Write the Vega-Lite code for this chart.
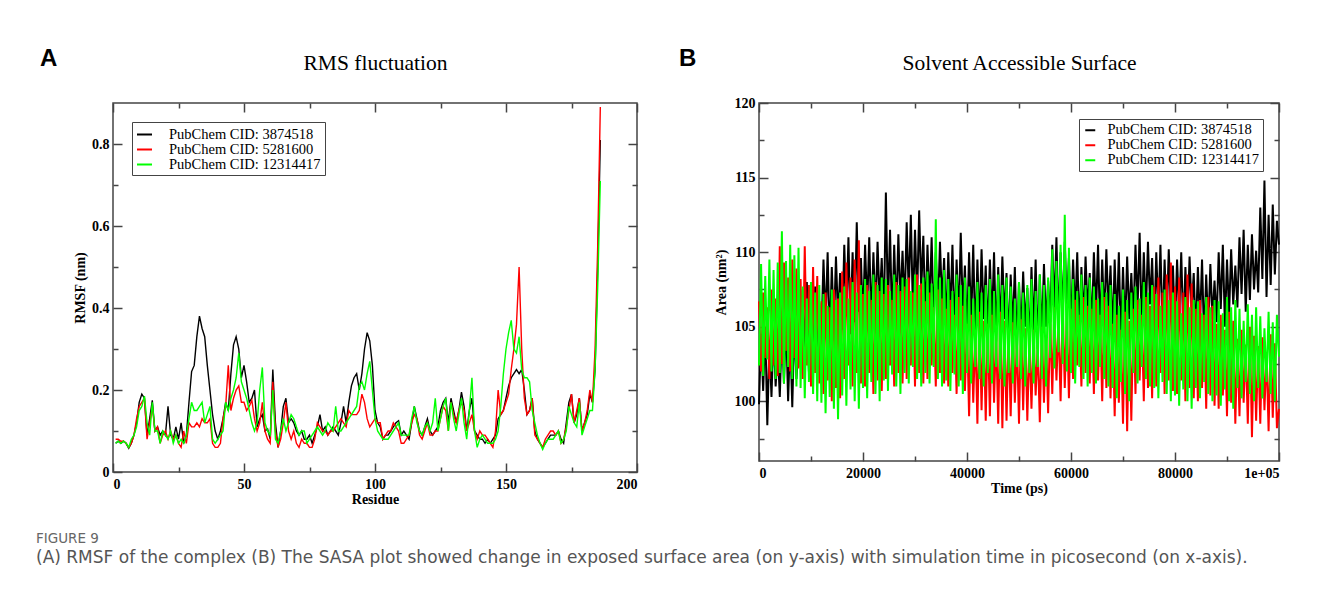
{
  "$schema": "https://vega.github.io/schema/vega-lite/v6.json",
  "background": "white",
  "padding": {"left": 36, "top": 46, "right": 5, "bottom": 5},
  "config": {
    "view": {"stroke": "#444", "strokeWidth": 1.5},
    "axis": {"grid": false, "domain": false, "labelFont": "Liberation Serif", "labelFontWeight": "bold", "labelFontSize": 14, "labelColor": "#000", "titleFont": "Liberation Serif", "titleFontWeight": "bold", "titleFontSize": 14, "titleColor": "#000", "tickColor": "#444", "tickWidth": 1.5}
  },
  "title": {"text": "FIGURE 9", "subtitle": "(A) RMSF of the complex (B) The SASA plot showed change in exposed surface area (on y-axis) with simulation time in picosecond (on x-axis).", "orient": "bottom", "anchor": "start", "frame": "group", "dx": -77, "offset": 25, "font": "DejaVu Sans", "fontSize": 13.5, "fontWeight": "normal", "color": "#666", "subtitleFont": "DejaVu Sans", "subtitleFontSize": 17, "subtitleColor": "#555", "subtitlePadding": 5},
  "spacing": 122,
  "bounds": "flush",
  "resolve": {"scale": {"color": "independent"}, "legend": {"color": "independent"}},
  "hconcat": [
    {
      "width": 524,
      "height": 369,
      "title": {"text": "A", "anchor": "start", "frame": "group", "font": "Liberation Sans", "fontSize": 24, "fontWeight": "bold", "color": "#000", "dx": -73, "offset": 0, "dy": 19},
      "data": {"values": [
        {"residue":1,"k":0.07,"r":0.08,"g":0.07},{"residue":2,"k":0.075,"r":0.08,"g":0.075},{"residue":3,"k":0.07,"r":0.075,"g":0.07},{"residue":4,"k":0.075,"r":0.075,"g":0.075},{"residue":5,"k":0.07,"r":0.07,"g":0.07},
        {"residue":6,"k":0.058,"r":0.06,"g":0.06},{"residue":7,"k":0.07,"r":0.07,"g":0.08},{"residue":8,"k":0.09,"r":0.09,"g":0.09},{"residue":9,"k":0.12,"r":0.13,"g":0.11},{"residue":10,"k":0.17,"r":0.16,"g":0.15},
        {"residue":11,"k":0.19,"r":0.17,"g":0.16},{"residue":12,"k":0.18,"r":0.18,"g":0.185},{"residue":13,"k":0.09,"r":0.08,"g":0.12},{"residue":14,"k":0.13,"r":0.12,"g":0.09},{"residue":15,"k":0.175,"r":0.16,"g":0.17},
        {"residue":16,"k":0.10,"r":0.10,"g":0.10},{"residue":17,"k":0.11,"r":0.11,"g":0.10},{"residue":18,"k":0.09,"r":0.07,"g":0.07},{"residue":19,"k":0.10,"r":0.09,"g":0.10},{"residue":20,"k":0.09,"r":0.10,"g":0.09},
        {"residue":21,"k":0.16,"r":0.08,"g":0.08},{"residue":22,"k":0.09,"r":0.10,"g":0.10},{"residue":23,"k":0.08,"r":0.08,"g":0.07},{"residue":24,"k":0.11,"r":0.09,"g":0.09},{"residue":25,"k":0.08,"r":0.07,"g":0.07},
        {"residue":26,"k":0.12,"r":0.06,"g":0.08},{"residue":27,"k":0.07,"r":0.10,"g":0.07},{"residue":28,"k":0.09,"r":0.07,"g":0.09},{"residue":29,"k":0.17,"r":0.12,"g":0.13},{"residue":30,"k":0.245,"r":0.11,"g":0.17},
        {"residue":31,"k":0.26,"r":0.11,"g":0.15},{"residue":32,"k":0.33,"r":0.12,"g":0.15},{"residue":33,"k":0.38,"r":0.11,"g":0.16},{"residue":34,"k":0.35,"r":0.13,"g":0.17},{"residue":35,"k":0.33,"r":0.12,"g":0.12},
        {"residue":36,"k":0.26,"r":0.12,"g":0.14},{"residue":37,"k":0.20,"r":0.13,"g":0.16},{"residue":38,"k":0.14,"r":0.07,"g":0.08},{"residue":39,"k":0.10,"r":0.06,"g":0.07},{"residue":40,"k":0.08,"r":0.06,"g":0.08},
        {"residue":41,"k":0.10,"r":0.07,"g":0.09},{"residue":42,"k":0.13,"r":0.13,"g":0.10},{"residue":43,"k":0.17,"r":0.16,"g":0.17},{"residue":44,"k":0.15,"r":0.26,"g":0.15},{"residue":45,"k":0.24,"r":0.15,"g":0.18},
        {"residue":46,"k":0.31,"r":0.18,"g":0.20},{"residue":47,"k":0.33,"r":0.20,"g":0.23},{"residue":48,"k":0.30,"r":0.21,"g":0.29},{"residue":49,"k":0.23,"r":0.17,"g":0.22},{"residue":50,"k":0.26,"r":0.17,"g":0.20},
        {"residue":51,"k":0.22,"r":0.15,"g":0.18},{"residue":52,"k":0.17,"r":0.16,"g":0.15},{"residue":53,"k":0.18,"r":0.175,"g":0.12},{"residue":54,"k":0.20,"r":0.13,"g":0.10},{"residue":55,"k":0.11,"r":0.10,"g":0.12},
        {"residue":56,"k":0.13,"r":0.12,"g":0.20},{"residue":57,"k":0.14,"r":0.17,"g":0.255},{"residue":58,"k":0.10,"r":0.10,"g":0.12},{"residue":59,"k":0.105,"r":0.08,"g":0.10},{"residue":60,"k":0.08,"r":0.07,"g":0.09},
        {"residue":61,"k":0.25,"r":0.22,"g":0.20},{"residue":62,"k":0.12,"r":0.10,"g":0.08},{"residue":63,"k":0.06,"r":0.06,"g":0.07},{"residue":64,"k":0.10,"r":0.08,"g":0.10},{"residue":65,"k":0.16,"r":0.12,"g":0.13},
        {"residue":66,"k":0.18,"r":0.17,"g":0.10},{"residue":67,"k":0.12,"r":0.10,"g":0.12},{"residue":68,"k":0.13,"r":0.08,"g":0.14},{"residue":69,"k":0.12,"r":0.10,"g":0.13},{"residue":70,"k":0.10,"r":0.07,"g":0.11},
        {"residue":71,"k":0.09,"r":0.06,"g":0.09},{"residue":72,"k":0.10,"r":0.08,"g":0.10},{"residue":73,"k":0.08,"r":0.07,"g":0.10},{"residue":74,"k":0.08,"r":0.07,"g":0.07},{"residue":75,"k":0.09,"r":0.06,"g":0.08},
        {"residue":76,"k":0.07,"r":0.06,"g":0.09},{"residue":77,"k":0.09,"r":0.08,"g":0.10},{"residue":78,"k":0.11,"r":0.12,"g":0.11},{"residue":79,"k":0.14,"r":0.11,"g":0.10},{"residue":80,"k":0.10,"r":0.10,"g":0.09},
        {"residue":81,"k":0.11,"r":0.10,"g":0.10},{"residue":82,"k":0.09,"r":0.09,"g":0.12},{"residue":83,"k":0.10,"r":0.10,"g":0.11},{"residue":84,"k":0.11,"r":0.10,"g":0.10},{"residue":85,"k":0.10,"r":0.11,"g":0.16},
        {"residue":86,"k":0.09,"r":0.12,"g":0.10},{"residue":87,"k":0.12,"r":0.13,"g":0.10},{"residue":88,"k":0.16,"r":0.12,"g":0.11},{"residue":89,"k":0.12,"r":0.11,"g":0.12},{"residue":90,"k":0.17,"r":0.15,"g":0.13},
        {"residue":91,"k":0.21,"r":0.14,"g":0.14},{"residue":92,"k":0.23,"r":0.14,"g":0.15},{"residue":93,"k":0.24,"r":0.14,"g":0.16},{"residue":94,"k":0.20,"r":0.15,"g":0.21},{"residue":95,"k":0.24,"r":0.19,"g":0.22},
        {"residue":96,"k":0.30,"r":0.17,"g":0.20},{"residue":97,"k":0.34,"r":0.13,"g":0.24},{"residue":98,"k":0.32,"r":0.11,"g":0.27},{"residue":99,"k":0.26,"r":0.12,"g":0.20},{"residue":100,"k":0.15,"r":0.13,"g":0.13},
        {"residue":101,"k":0.12,"r":0.12,"g":0.10},{"residue":102,"k":0.11,"r":0.12,"g":0.09},{"residue":103,"k":0.08,"r":0.08,"g":0.08},{"residue":104,"k":0.09,"r":0.09,"g":0.08},{"residue":105,"k":0.09,"r":0.10,"g":0.08},
        {"residue":106,"k":0.10,"r":0.10,"g":0.09},{"residue":107,"k":0.11,"r":0.12,"g":0.10},{"residue":108,"k":0.12,"r":0.11,"g":0.11},{"residue":109,"k":0.125,"r":0.10,"g":0.12},{"residue":110,"k":0.09,"r":0.07,"g":0.09},
        {"residue":111,"k":0.10,"r":0.07,"g":0.09},{"residue":112,"k":0.09,"r":0.08,"g":0.09},{"residue":113,"k":0.08,"r":0.09,"g":0.09},{"residue":114,"k":0.12,"r":0.12,"g":0.13},{"residue":115,"k":0.16,"r":0.14,"g":0.16},
        {"residue":116,"k":0.13,"r":0.13,"g":0.12},{"residue":117,"k":0.10,"r":0.09,"g":0.10},{"residue":118,"k":0.09,"r":0.08,"g":0.09},{"residue":119,"k":0.11,"r":0.10,"g":0.11},{"residue":120,"k":0.13,"r":0.12,"g":0.12},
        {"residue":121,"k":0.10,"r":0.09,"g":0.10},{"residue":122,"k":0.09,"r":0.09,"g":0.12},{"residue":123,"k":0.10,"r":0.10,"g":0.18},{"residue":124,"k":0.11,"r":0.10,"g":0.10},{"residue":125,"k":0.15,"r":0.13,"g":0.13},
        {"residue":126,"k":0.17,"r":0.16,"g":0.16},{"residue":127,"k":0.18,"r":0.15,"g":0.18},{"residue":128,"k":0.12,"r":0.10,"g":0.10},{"residue":129,"k":0.18,"r":0.17,"g":0.17},{"residue":130,"k":0.15,"r":0.14,"g":0.13},
        {"residue":131,"k":0.12,"r":0.12,"g":0.10},{"residue":132,"k":0.15,"r":0.15,"g":0.14},{"residue":133,"k":0.195,"r":0.17,"g":0.18},{"residue":134,"k":0.16,"r":0.15,"g":0.12},{"residue":135,"k":0.10,"r":0.10,"g":0.08},
        {"residue":136,"k":0.15,"r":0.12,"g":0.15},{"residue":137,"k":0.18,"r":0.14,"g":0.23},{"residue":138,"k":0.10,"r":0.10,"g":0.10},{"residue":139,"k":0.09,"r":0.08,"g":0.06},{"residue":140,"k":0.08,"r":0.10,"g":0.08},
        {"residue":141,"k":0.08,"r":0.09,"g":0.09},{"residue":142,"k":0.07,"r":0.09,"g":0.08},{"residue":143,"k":0.08,"r":0.08,"g":0.07},{"residue":144,"k":0.07,"r":0.07,"g":0.07},{"residue":145,"k":0.08,"r":0.06,"g":0.07},
        {"residue":146,"k":0.09,"r":0.10,"g":0.08},{"residue":147,"k":0.13,"r":0.20,"g":0.10},{"residue":148,"k":0.14,"r":0.14,"g":0.16},{"residue":149,"k":0.15,"r":0.15,"g":0.24},{"residue":150,"k":0.18,"r":0.17,"g":0.30},
        {"residue":151,"k":0.21,"r":0.19,"g":0.34},{"residue":152,"k":0.23,"r":0.25,"g":0.37},{"residue":153,"k":0.24,"r":0.30,"g":0.30},{"residue":154,"k":0.25,"r":0.36,"g":0.29},{"residue":155,"k":0.24,"r":0.50,"g":0.33},
        {"residue":156,"k":0.25,"r":0.30,"g":0.25},{"residue":157,"k":0.20,"r":0.18,"g":0.23},{"residue":158,"k":0.14,"r":0.14,"g":0.23},{"residue":159,"k":0.15,"r":0.15,"g":0.22},{"residue":160,"k":0.18,"r":0.18,"g":0.15},
        {"residue":161,"k":0.10,"r":0.09,"g":0.12},{"residue":162,"k":0.08,"r":0.08,"g":0.09},{"residue":163,"k":0.07,"r":0.07,"g":0.07},{"residue":164,"k":0.06,"r":0.06,"g":0.055},{"residue":165,"k":0.07,"r":0.08,"g":0.07},
        {"residue":166,"k":0.08,"r":0.09,"g":0.08},{"residue":167,"k":0.09,"r":0.10,"g":0.08},{"residue":168,"k":0.09,"r":0.10,"g":0.08},{"residue":169,"k":0.09,"r":0.09,"g":0.09},{"residue":170,"k":0.10,"r":0.10,"g":0.10},
        {"residue":171,"k":0.08,"r":0.07,"g":0.07},{"residue":172,"k":0.07,"r":0.08,"g":0.08},{"residue":173,"k":0.12,"r":0.11,"g":0.10},{"residue":174,"k":0.17,"r":0.15,"g":0.16},{"residue":175,"k":0.19,"r":0.19,"g":0.14},
        {"residue":176,"k":0.12,"r":0.12,"g":0.12},{"residue":177,"k":0.14,"r":0.15,"g":0.11},{"residue":178,"k":0.18,"r":0.18,"g":0.17},{"residue":179,"k":0.10,"r":0.10,"g":0.09},{"residue":180,"k":0.12,"r":0.12,"g":0.11},
        {"residue":181,"k":0.14,"r":0.15,"g":0.13},{"residue":182,"k":0.19,"r":0.20,"g":0.15},{"residue":183,"k":0.17,"r":0.17,"g":0.15},{"residue":184,"k":0.25,"r":0.30,"g":0.25},{"residue":185,"k":0.50,"r":0.55,"g":0.45},
        {"residue":186,"k":0.81,"r":0.89,"g":0.71}
      ]},
      "transform": [{"fold": ["k", "r", "g"], "as": ["cid", "rmsf"]}],
      "encoding": {
        "color": {"field": "cid", "type": "nominal", "scale": {"domain": ["k", "r", "g"], "range": ["#000000", "#ff0000", "#00ff00"]},
          "legend": {"orient": "top-left", "offset": 19, "title": null, "labelExpr": "datum.label == 'k' ? 'PubChem CID: 3874518' : datum.label == 'r' ? 'PubChem CID: 5281600' : 'PubChem CID: 12314417'", "labelFont": "Liberation Serif", "labelFontSize": 14.5, "labelColor": "#000", "symbolType": "stroke", "symbolSize": 225, "symbolStrokeWidth": 2, "labelOffset": 16, "strokeColor": "#444", "fillColor": "#fff", "padding": 4, "rowPadding": 0, "labelLimit": 300}}
      },
      "layer": [
        {"transform": [{"filter": "datum.cid == 'k'"}], "mark": {"type": "line", "strokeWidth": 1.4},
          "encoding": {
            "x": {"field": "residue", "type": "quantitative", "scale": {"domain": [0, 200], "nice": false}, "axis": {"orient": "bottom", "values": [0, 50, 100, 150, 200], "tickSize": -9, "labelPadding": 14, "title": "Residue", "titlePadding": 1}},
            "y": {"field": "rmsf", "type": "quantitative", "scale": {"domain": [0, 0.9], "nice": false}, "axis": {"orient": "left", "values": [0, 0.2, 0.4, 0.6, 0.8], "format": "~g", "tickSize": -9, "labelPadding": 13, "title": "RMSF (nm)", "titlePadding": 4}}
          }},
        {"transform": [{"filter": "datum.cid == 'r'"}], "mark": {"type": "line", "strokeWidth": 1.4},
          "encoding": {
            "x": {"field": "residue", "type": "quantitative", "scale": {"domain": [0, 200], "nice": false}, "axis": {"orient": "top", "values": [0, 50, 100, 150, 200], "tickSize": -9, "labels": false, "title": "RMS fluctuation", "titleFontWeight": "normal", "titleFontSize": 21.5, "titlePadding": 28}},
            "y": {"field": "rmsf", "type": "quantitative", "scale": {"domain": [0, 0.9], "nice": false}, "axis": {"orient": "right", "values": [0, 0.2, 0.4, 0.6, 0.8], "tickSize": -9, "labels": false, "title": null}}
          }},
        {"transform": [{"filter": "datum.cid == 'g'"}], "mark": {"type": "line", "strokeWidth": 1.4},
          "encoding": {
            "x": {"field": "residue", "type": "quantitative", "scale": {"domain": [0, 200], "nice": false}, "axis": {"orient": "bottom", "values": [25, 75, 125, 175], "tickSize": -5, "labels": false, "title": null}},
            "y": {"field": "rmsf", "type": "quantitative", "scale": {"domain": [0, 0.9], "nice": false}, "axis": {"orient": "left", "values": [0.1, 0.3, 0.5, 0.7], "tickSize": -5, "labels": false, "title": null}}
          }},
        {"mark": {"type": "line", "opacity": 0},
          "encoding": {
            "x": {"field": "residue", "type": "quantitative", "scale": {"domain": [0, 200], "nice": false}, "axis": {"orient": "top", "values": [25, 75, 125, 175], "tickSize": -5, "labels": false, "title": null}},
            "y": {"field": "rmsf", "type": "quantitative", "scale": {"domain": [0, 0.9], "nice": false}, "axis": {"orient": "right", "values": [0.1, 0.3, 0.5, 0.7], "tickSize": -5, "labels": false, "title": null}}
          }}
      ],
      "resolve": {"axis": {"x": "independent", "y": "independent"}}
    },
    {
      "width": 520,
      "height": 358,
      "title": {"text": "B", "anchor": "start", "frame": "group", "font": "Liberation Sans", "fontSize": 24, "fontWeight": "bold", "color": "#000", "dx": -80, "offset": 0, "dy": 19},
      "data": {"values": [
        {"time":0,"k":99.8,"r":106.7,"g":102.4},{"time":400,"k":104.5,"r":102,"g":109.2},{"time":800,"k":100.7,"r":107.3,"g":101.7},{"time":1200,"k":105,"r":102.9,"g":108.4},{"time":1600,"k":98.4,"r":106.3,"g":102.8},
        {"time":2000,"k":104,"r":101.5,"g":109.5},{"time":2400,"k":100.3,"r":107.5,"g":102},{"time":2800,"k":104.7,"r":102.4,"g":108.8},{"time":3200,"k":101,"r":106.9,"g":101.5},{"time":3600,"k":103.6,"r":101.7,"g":109.3},
        {"time":4000,"k":100.3,"r":110.4,"g":101.9},{"time":4400,"k":105,"r":102.5,"g":111.4},{"time":4800,"k":101.2,"r":109.3,"g":101.2},{"time":5200,"k":105.5,"r":103.4,"g":109.4},{"time":5600,"k":100,"r":108.3,"g":102.3},
        {"time":6000,"k":104.5,"r":102,"g":110.5},{"time":6400,"k":99.6,"r":109.5,"g":101.5},{"time":6800,"k":105.2,"r":102.9,"g":109.8},{"time":7200,"k":101.5,"r":108.9,"g":101},{"time":7600,"k":104.1,"r":102.2,"g":110.3},
        {"time":8000,"k":102.3,"r":108.2,"g":100.9},{"time":8400,"k":107.5,"r":101.5,"g":107.7},{"time":8800,"k":103.2,"r":110.4,"g":100.2},{"time":9200,"k":108,"r":102.4,"g":106.9},{"time":9600,"k":102,"r":107.8,"g":101.3},
        {"time":10000,"k":107,"r":101,"g":108},{"time":10400,"k":102.8,"r":109,"g":100.5},{"time":10800,"k":107.7,"r":101.9,"g":107.3},{"time":11200,"k":103.5,"r":108.4,"g":100},{"time":11600,"k":106.6,"r":101.2,"g":107.8},
        {"time":12000,"k":104.3,"r":106.7,"g":99.9},{"time":12400,"k":109.5,"r":100.5,"g":107.2},{"time":12800,"k":105.2,"r":107.3,"g":99.2},{"time":13200,"k":110,"r":101.4,"g":106.4},{"time":13600,"k":104,"r":106.3,"g":100.3},
        {"time":14000,"k":109,"r":100,"g":107.5},{"time":14400,"k":104.8,"r":107.5,"g":99.5},{"time":14800,"k":109.7,"r":100.9,"g":106.8},{"time":15200,"k":105.5,"r":106.9,"g":98.8},{"time":15600,"k":108.6,"r":100.2,"g":107.3},
        {"time":16000,"k":104.8,"r":108.7,"g":100.4},{"time":16400,"k":110.5,"r":101.5,"g":107.7},{"time":16800,"k":105.7,"r":109.3,"g":99.7},{"time":17200,"k":111,"r":102.4,"g":106.9},{"time":17600,"k":104.5,"r":108.3,"g":100.8},
        {"time":18000,"k":110,"r":101,"g":108},{"time":18400,"k":105.3,"r":109.5,"g":100},{"time":18800,"k":112,"r":101.9,"g":107.3},{"time":19200,"k":106,"r":110.8,"g":99.5},{"time":19600,"k":109.6,"r":101.2,"g":107.8},
        {"time":20000,"k":105.3,"r":107.2,"g":100.9},{"time":20400,"k":110.5,"r":101,"g":108.2},{"time":20800,"k":106.2,"r":107.8,"g":100.2},{"time":21200,"k":111,"r":101.9,"g":107.4},{"time":21600,"k":105,"r":106.8,"g":101.3},
        {"time":22000,"k":110,"r":100.5,"g":108.5},{"time":22400,"k":105.8,"r":108,"g":100.5},{"time":22800,"k":110.7,"r":101.4,"g":107.8},{"time":23200,"k":106.5,"r":107.4,"g":100},{"time":23600,"k":109.6,"r":100.7,"g":108.3},
        {"time":24000,"k":105.3,"r":107.2,"g":101.4},{"time":24400,"k":114,"r":101.5,"g":108.2},{"time":24800,"k":106.2,"r":107.8,"g":100.7},{"time":25200,"k":111.5,"r":102.4,"g":107.4},{"time":25600,"k":105,"r":106.8,"g":101.8},
        {"time":26000,"k":110.5,"r":101,"g":108.5},{"time":26400,"k":105.8,"r":108,"g":101},{"time":26800,"k":111.2,"r":101.9,"g":107.8},{"time":27200,"k":106.5,"r":107.4,"g":100.5},{"time":27600,"k":110.1,"r":101.2,"g":108.3},
        {"time":28000,"k":106.3,"r":107.7,"g":101.9},{"time":28400,"k":112,"r":101.5,"g":108.2},{"time":28800,"k":107.2,"r":108.3,"g":101.2},{"time":29200,"k":112.5,"r":102.4,"g":107.4},{"time":29600,"k":106,"r":107.3,"g":102.3},
        {"time":30000,"k":111.5,"r":101,"g":108.5},{"time":30400,"k":106.8,"r":108.5,"g":101.5},{"time":30800,"k":112.8,"r":101.9,"g":107.8},{"time":31200,"k":107.5,"r":107.9,"g":101},{"time":31600,"k":111.1,"r":101.2,"g":108.3},
        {"time":32000,"k":105.3,"r":106.7,"g":101.9},{"time":32400,"k":110.5,"r":101.5,"g":108.7},{"time":32800,"k":106.2,"r":107.3,"g":101.2},{"time":33200,"k":111,"r":102.4,"g":107.9},{"time":33600,"k":105,"r":106.3,"g":102.3},
        {"time":34000,"k":110,"r":101,"g":112.2},{"time":34400,"k":105.8,"r":107.5,"g":101.5},{"time":34800,"k":110.7,"r":101.9,"g":108.3},{"time":35200,"k":106.5,"r":106.9,"g":101},{"time":35600,"k":109.6,"r":101.2,"g":108.8},
        {"time":36000,"k":104.8,"r":106.2,"g":101.4},{"time":36400,"k":110,"r":101,"g":108.2},{"time":36800,"k":105.7,"r":106.8,"g":100.7},{"time":37200,"k":110.5,"r":101.9,"g":107.4},{"time":37600,"k":104.5,"r":105.8,"g":101.8},
        {"time":38000,"k":109.5,"r":100.5,"g":108.5},{"time":38400,"k":105.3,"r":107,"g":101},{"time":38800,"k":111.3,"r":101.4,"g":107.8},{"time":39200,"k":106,"r":106.4,"g":100.5},{"time":39600,"k":109.1,"r":100.7,"g":108.3},
        {"time":40000,"k":104.3,"r":105.2,"g":101.9},{"time":40400,"k":110,"r":99,"g":107.7},{"time":40800,"k":105.2,"r":105.8,"g":101.2},{"time":41200,"k":110.5,"r":99.9,"g":106.9},{"time":41600,"k":104,"r":104.8,"g":102.3},
        {"time":42000,"k":109.5,"r":98.5,"g":108},{"time":42400,"k":104.8,"r":106,"g":101.5},{"time":42800,"k":110.2,"r":99.4,"g":107.3},{"time":43200,"k":105.5,"r":105.4,"g":101},{"time":43600,"k":109.1,"r":98.7,"g":107.8},
        {"time":44000,"k":104.3,"r":105.2,"g":101.9},{"time":44400,"k":109.5,"r":99,"g":108.2},{"time":44800,"k":105.2,"r":105.8,"g":101.2},{"time":45200,"k":110,"r":99.9,"g":107.4},{"time":45600,"k":104,"r":104.8,"g":102.3},
        {"time":46000,"k":109,"r":98.5,"g":108.5},{"time":46400,"k":104.8,"r":106,"g":101.5},{"time":46800,"k":109.7,"r":98.2,"g":107.8},{"time":47200,"k":105.5,"r":105.4,"g":101},{"time":47600,"k":108.6,"r":98.7,"g":108.3},
        {"time":48000,"k":103.8,"r":104.7,"g":101.9},{"time":48400,"k":108.5,"r":99,"g":107.7},{"time":48800,"k":104.7,"r":105.3,"g":101.2},{"time":49200,"k":109,"r":99.9,"g":106.9},{"time":49600,"k":103.5,"r":104.3,"g":102.3},
        {"time":50000,"k":108,"r":98.5,"g":108},{"time":50400,"k":104.3,"r":105.5,"g":101.5},{"time":50800,"k":108.7,"r":99.4,"g":107.3},{"time":51200,"k":105,"r":104.9,"g":101},{"time":51600,"k":107.6,"r":98.7,"g":107.8},
        {"time":52000,"k":103.8,"r":104.2,"g":101.9},{"time":52400,"k":109,"r":99.5,"g":108.2},{"time":52800,"k":104.7,"r":104.8,"g":101.2},{"time":53200,"k":109.5,"r":100.4,"g":107.4},{"time":53600,"k":103.5,"r":103.8,"g":102.3},
        {"time":54000,"k":108.5,"r":98.6,"g":108.5},{"time":54400,"k":104.3,"r":105,"g":101.5},{"time":54800,"k":109.2,"r":99.9,"g":107.8},{"time":55200,"k":105,"r":104.4,"g":101},{"time":55600,"k":108.1,"r":99.2,"g":108.3},
        {"time":56000,"k":105.3,"r":105.7,"g":102.9},{"time":56400,"k":110.5,"r":100.5,"g":110.2},{"time":56800,"k":106.2,"r":106.3,"g":102.2},{"time":57200,"k":111,"r":101.4,"g":109.4},{"time":57600,"k":105,"r":105.3,"g":103.3},
        {"time":58000,"k":110,"r":100,"g":110.5},{"time":58400,"k":105.8,"r":106.5,"g":102.5},{"time":58800,"k":110.7,"r":100.9,"g":112.5},{"time":59200,"k":106.5,"r":105.9,"g":102},{"time":59600,"k":109.6,"r":100.2,"g":110.3},
        {"time":60000,"k":104.8,"r":106.2,"g":101.9},{"time":60400,"k":109.5,"r":101.5,"g":108.2},{"time":60800,"k":105.7,"r":106.8,"g":101.2},{"time":61200,"k":110,"r":102.4,"g":107.4},{"time":61600,"k":104.5,"r":105.8,"g":102.3},
        {"time":62000,"k":109,"r":101,"g":108.5},{"time":62400,"k":105.3,"r":107,"g":101.5},{"time":62800,"k":109.7,"r":101.9,"g":107.8},{"time":63200,"k":106,"r":106.4,"g":101},{"time":63600,"k":108.6,"r":101.2,"g":108.3},
        {"time":64000,"k":104.8,"r":106.2,"g":101.9},{"time":64400,"k":110,"r":100.5,"g":107.7},{"time":64800,"k":105.7,"r":106.8,"g":101.2},{"time":65200,"k":110.5,"r":101.4,"g":106.9},{"time":65600,"k":104.5,"r":105.8,"g":102.3},
        {"time":66000,"k":109.5,"r":100,"g":108},{"time":66400,"k":105.3,"r":107,"g":101.5},{"time":66800,"k":110.2,"r":100.9,"g":107.3},{"time":67200,"k":106,"r":106.4,"g":101},{"time":67600,"k":109.1,"r":100.2,"g":107.8},
        {"time":68000,"k":104.3,"r":105.2,"g":100.9},{"time":68400,"k":109.5,"r":99,"g":107.2},{"time":68800,"k":105.2,"r":105.8,"g":100.2},{"time":69200,"k":110,"r":99.9,"g":106.4},{"time":69600,"k":104,"r":104.8,"g":101.3},
        {"time":70000,"k":109,"r":98.5,"g":107.5},{"time":70400,"k":104.8,"r":106,"g":100.5},{"time":70800,"k":109.7,"r":98,"g":106.8},{"time":71200,"k":105.5,"r":105.4,"g":100},{"time":71600,"k":108.6,"r":98.7,"g":107.3},
        {"time":72000,"k":105.3,"r":106.2,"g":101.9},{"time":72400,"k":110.5,"r":100.5,"g":107.7},{"time":72800,"k":106.2,"r":106.8,"g":101.2},{"time":73200,"k":111.3,"r":101.4,"g":106.9},{"time":73600,"k":105,"r":105.8,"g":102.3},
        {"time":74000,"k":110,"r":100,"g":108},{"time":74400,"k":105.8,"r":107,"g":101.5},{"time":74800,"k":110.7,"r":100.9,"g":107.3},{"time":75200,"k":106.5,"r":106.4,"g":101},{"time":75600,"k":109.6,"r":100.2,"g":107.8},
        {"time":76000,"k":104.8,"r":107.7,"g":100.9},{"time":76400,"k":110,"r":101,"g":107.2},{"time":76800,"k":105.7,"r":108.3,"g":100.2},{"time":77200,"k":110.5,"r":101.9,"g":106.4},{"time":77600,"k":104.5,"r":107.3,"g":101.3},
        {"time":78000,"k":109.5,"r":100.5,"g":107.5},{"time":78400,"k":105.3,"r":108.5,"g":100.5},{"time":78800,"k":110.2,"r":101.4,"g":106.8},{"time":79200,"k":106,"r":109.3,"g":100},{"time":79600,"k":109.1,"r":100.7,"g":107.3},
        {"time":80000,"k":104.8,"r":107.7,"g":100.4},{"time":80400,"k":109.5,"r":100.5,"g":106.7},{"time":80800,"k":105.7,"r":108.3,"g":99.7},{"time":81200,"k":110,"r":101.4,"g":105.9},{"time":81600,"k":104.5,"r":107.3,"g":100.8},
        {"time":82000,"k":109,"r":100,"g":107},{"time":82400,"k":105.3,"r":108.5,"g":100},{"time":82800,"k":109.7,"r":100.9,"g":106.3},{"time":83200,"k":106,"r":107.9,"g":99.5},{"time":83600,"k":108.6,"r":100.2,"g":106.8},
        {"time":84000,"k":104.3,"r":106.2,"g":100.9},{"time":84400,"k":109,"r":100,"g":106.7},{"time":84800,"k":105.2,"r":106.8,"g":100.2},{"time":85200,"k":109.5,"r":100.9,"g":105.9},{"time":85600,"k":104,"r":105.8,"g":101.3},
        {"time":86000,"k":108.5,"r":99.5,"g":107},{"time":86400,"k":104.8,"r":107,"g":100.5},{"time":86800,"k":109.2,"r":100.4,"g":106.3},{"time":87200,"k":105.5,"r":106.4,"g":100},{"time":87600,"k":108.1,"r":99.7,"g":106.8},
        {"time":88000,"k":105.3,"r":105.2,"g":100.4},{"time":88400,"k":110,"r":99.5,"g":106.7},{"time":88800,"k":106.2,"r":105.8,"g":99.7},{"time":89200,"k":110.5,"r":100.4,"g":105.9},{"time":89600,"k":105,"r":104.8,"g":100.8},
        {"time":90000,"k":109.5,"r":99,"g":107},{"time":90400,"k":105.8,"r":106,"g":100},{"time":90800,"k":110.2,"r":99.9,"g":106.3},{"time":91200,"k":106.5,"r":105.4,"g":99.5},{"time":91600,"k":109.1,"r":98.5,"g":106.8},
        {"time":92000,"k":106.3,"r":104.2,"g":100.9},{"time":92400,"k":111,"r":99,"g":106.2},{"time":92800,"k":107.2,"r":104.8,"g":100.2},{"time":93200,"k":111.5,"r":99.9,"g":105.4},{"time":93600,"k":106,"r":103.8,"g":101.3},
        {"time":94000,"k":110.5,"r":98.5,"g":106.5},{"time":94400,"k":106.8,"r":105,"g":100.5},{"time":94800,"k":111.2,"r":97.6,"g":105.8},{"time":95200,"k":107.5,"r":104.4,"g":100},{"time":95600,"k":110.1,"r":98.7,"g":106.3},
        {"time":96000,"k":107.3,"r":103.7,"g":100.9},{"time":96400,"k":113,"r":98.5,"g":105.7},{"time":96800,"k":108.2,"r":104.3,"g":100.2},{"time":97200,"k":114.8,"r":99.4,"g":104.9},{"time":97600,"k":107,"r":103.3,"g":101.3},
        {"time":98000,"k":112.5,"r":98,"g":106},{"time":98400,"k":107.8,"r":104.5,"g":100.5},{"time":98800,"k":113.2,"r":98.9,"g":105.3},{"time":99200,"k":108.5,"r":103.9,"g":100},{"time":99600,"k":112.1,"r":98.2,"g":105.8},
        {"time":100000,"k":110.5,"r":99.5,"g":103}
      ]},
      "transform": [{"fold": ["k", "r", "g"], "as": ["cid", "area"]}],
      "encoding": {
        "color": {"field": "cid", "type": "nominal", "scale": {"domain": ["k", "r", "g"], "range": ["#000000", "#ff0000", "#00ff00"]},
          "legend": {"orient": "top-right", "offset": 16, "title": null, "labelExpr": "datum.label == 'k' ? 'PubChem CID: 3874518' : datum.label == 'r' ? 'PubChem CID: 5281600' : 'PubChem CID: 12314417'", "labelFont": "Liberation Serif", "labelFontSize": 14.5, "labelColor": "#000", "symbolType": "stroke", "symbolSize": 100, "symbolStrokeWidth": 2, "labelOffset": 10, "strokeColor": "#444", "fillColor": "#fff", "padding": 4, "rowPadding": 0, "labelLimit": 300}}
      },
      "layer": [
        {"transform": [{"filter": "datum.cid == 'k'"}], "mark": {"type": "line", "strokeWidth": 2},
          "encoding": {
            "x": {"field": "time", "type": "quantitative", "scale": {"domain": [0, 100000], "nice": false}, "axis": {"orient": "bottom", "values": [0, 20000, 40000, 60000, 80000, 100000], "labelExpr": "datum.value == 100000 ? '1e+05' : '' + datum.value", "tickSize": -9, "labelPadding": 14, "title": "Time (ps)", "titlePadding": 1}},
            "y": {"field": "area", "type": "quantitative", "scale": {"domain": [96, 120], "nice": false, "zero": false}, "axis": {"orient": "left", "values": [100, 105, 110, 115, 120], "tickSize": -9, "labelPadding": 13, "title": "Area (nm²)", "titlePadding": 6}}
          }},
        {"transform": [{"filter": "datum.cid == 'r'"}], "mark": {"type": "line", "strokeWidth": 2},
          "encoding": {
            "x": {"field": "time", "type": "quantitative", "scale": {"domain": [0, 100000], "nice": false}, "axis": {"orient": "top", "values": [0, 20000, 40000, 60000, 80000, 100000], "tickSize": -9, "labels": false, "title": "Solvent Accessible Surface", "titleFontWeight": "normal", "titleFontSize": 21.5, "titlePadding": 28}},
            "y": {"field": "area", "type": "quantitative", "scale": {"domain": [96, 120], "nice": false, "zero": false}, "axis": {"orient": "right", "values": [100, 105, 110, 115, 120], "tickSize": -9, "labels": false, "title": null}}
          }},
        {"transform": [{"filter": "datum.cid == 'g'"}], "mark": {"type": "line", "strokeWidth": 2},
          "encoding": {
            "x": {"field": "time", "type": "quantitative", "scale": {"domain": [0, 100000], "nice": false}, "axis": {"orient": "bottom", "values": [10000, 30000, 50000, 70000, 90000], "tickSize": -5, "labels": false, "title": null}},
            "y": {"field": "area", "type": "quantitative", "scale": {"domain": [96, 120], "nice": false, "zero": false}, "axis": {"orient": "left", "values": [97.5, 102.5, 107.5, 112.5, 117.5], "tickSize": -5, "labels": false, "title": null}}
          }},
        {"mark": {"type": "line", "opacity": 0},
          "encoding": {
            "x": {"field": "time", "type": "quantitative", "scale": {"domain": [0, 100000], "nice": false}, "axis": {"orient": "top", "values": [10000, 30000, 50000, 70000, 90000], "tickSize": -5, "labels": false, "title": null}},
            "y": {"field": "area", "type": "quantitative", "scale": {"domain": [96, 120], "nice": false, "zero": false}, "axis": {"orient": "right", "values": [97.5, 102.5, 107.5, 112.5, 117.5], "tickSize": -5, "labels": false, "title": null}}
          }}
      ],
      "resolve": {"axis": {"x": "independent", "y": "independent"}}
    }
  ]
}
